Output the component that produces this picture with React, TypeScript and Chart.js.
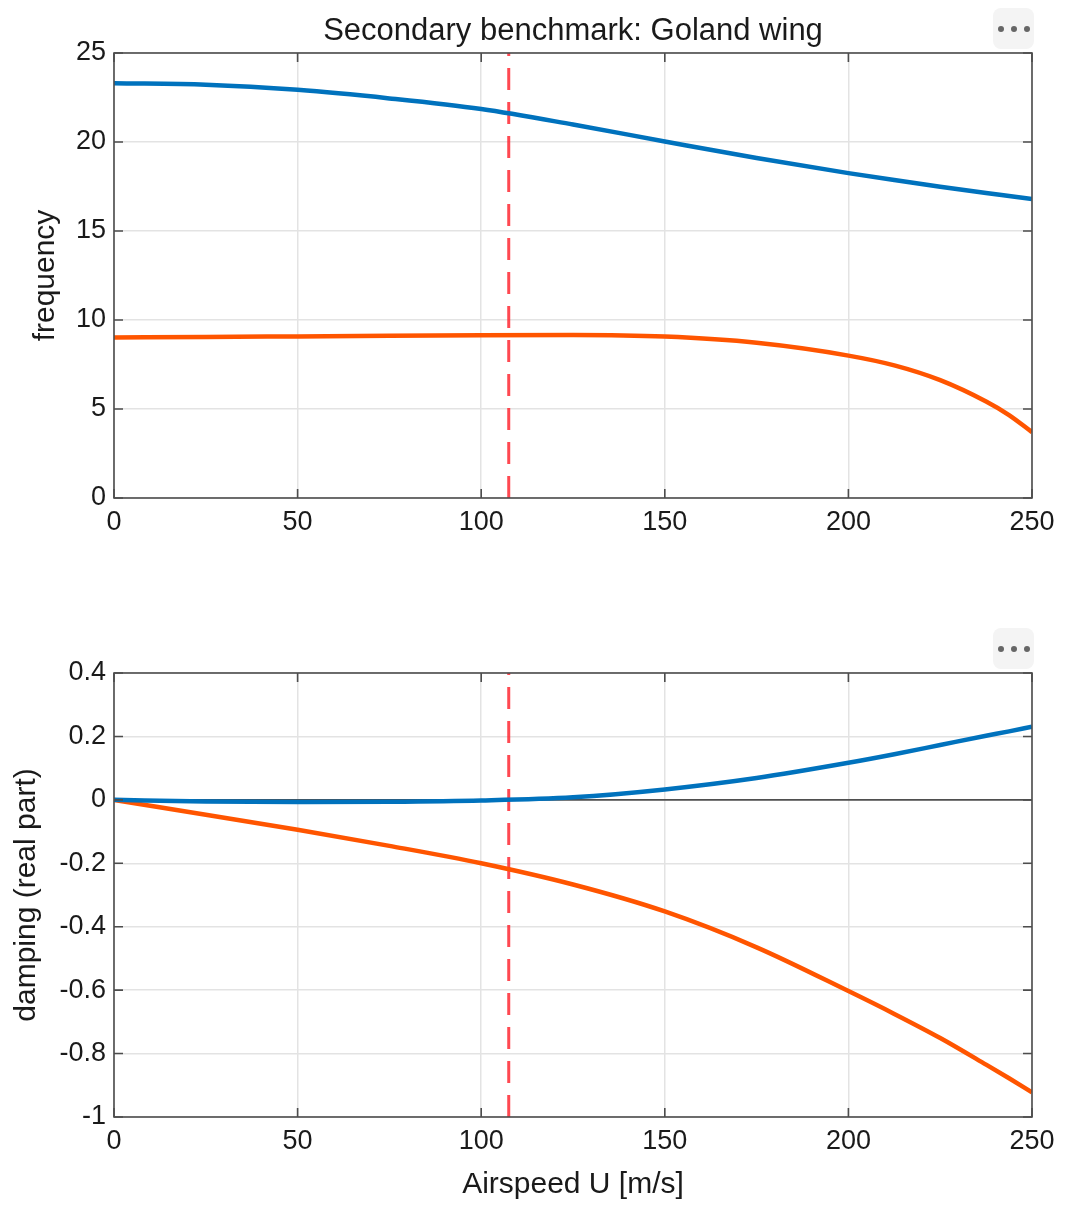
import React, { useEffect, useRef } from 'react';
import { Chart, registerables } from 'chart.js';

Chart.register(...registerables);

// airspeed samples [m/s]
const speeds = [0, 25, 50, 75, 100, 125, 150, 175, 200, 212.5, 225, 237.5, 243.75, 250];

// frequency of the two modes
const freqMode1 = [23.3, 23.22, 22.93, 22.45, 21.85, 20.98, 20.03, 19.1, 18.25, 17.86, 17.49, 17.14, 16.97, 16.8];
const freqMode2 = [9.02, 9.04, 9.08, 9.12, 9.15, 9.16, 9.07, 8.72, 8.0, 7.45, 6.62, 5.42, 4.66, 3.7];

// damping (real part) of the two modes
const dampMode1 = [0, -0.005, -0.007, -0.006, -0.002, 0.008, 0.033, 0.069, 0.117, 0.144, 0.173, 0.202, 0.216, 0.231];
const dampMode2 = [0, -0.047, -0.094, -0.145, -0.2, -0.267, -0.352, -0.465, -0.603, -0.675, -0.751, -0.835, -0.878, -0.922];

// flutter speed marker
const flutterSpeed = 107.5;

const xTicks = [0, 50, 100, 150, 200, 250];
const freqTicks = [0, 5, 10, 15, 20, 25];
const dampTicks = [-1, -0.8, -0.6, -0.4, -0.2, 0, 0.2, 0.4];

const BLUE = '#0072BD';
const ORANGE = '#FF5500';
const FONT = '"Liberation Sans", Arial, Helvetica, sans-serif';
const AXIS = '#4d4d4d';
const TEXT = '#1a1a1a';

const pts = (ys: number[]) => speeds.map((x, i) => ({ x, y: ys[i] }));

// MATLAB-like box with inward ticks on all four sides, plus an optional title centred on the axes
const boxPlugin = {
  id: 'matlabBox',
  afterDatasetsDraw(chart: any) {
    const { ctx, chartArea: a, scales } = chart;
    const len = 9;
    ctx.save();
    ctx.strokeStyle = AXIS;
    ctx.lineWidth = 1.6;
    ctx.strokeRect(a.left, a.top, a.right - a.left, a.bottom - a.top);
    ctx.beginPath();
    scales.x.ticks.forEach((t: any) => {
      const px = scales.x.getPixelForValue(t.value);
      ctx.moveTo(px, a.bottom);
      ctx.lineTo(px, a.bottom - len);
      ctx.moveTo(px, a.top);
      ctx.lineTo(px, a.top + len);
    });
    scales.y.ticks.forEach((t: any) => {
      const py = scales.y.getPixelForValue(t.value);
      ctx.moveTo(a.left, py);
      ctx.lineTo(a.left + len, py);
      ctx.moveTo(a.right, py);
      ctx.lineTo(a.right - len, py);
    });
    ctx.stroke();
    const title = chart.options.plugins.axesTitle?.text;
    if (title) {
      ctx.fillStyle = TEXT;
      ctx.font = `31px ${FONT}`;
      ctx.textAlign = 'center';
      ctx.textBaseline = 'middle';
      ctx.fillText(title, (a.left + a.right) / 2, 31);
    }
    ctx.restore();
  },
};

const makeOptions = (opts: {
  yMin: number;
  yMax: number;
  yTicks: number[];
  yTitle: string;
  yTitlePad: number;
  xTitle?: string;
  title?: string;
  padTop: number;
  xHeight: number;
}) => ({
  animation: false as const,
  responsive: false,
  maintainAspectRatio: false,
  layout: { padding: { top: opts.padTop, right: 35, left: 0, bottom: 0 } },
  plugins: {
    legend: { display: false },
    tooltip: { enabled: false },
    title: { display: false },
    axesTitle: { text: opts.title || '' },
  },
  scales: {
    x: {
      type: 'linear' as const,
      min: 0,
      max: 250,
      afterBuildTicks: (s: any) => {
        s.ticks = xTicks.map((v) => ({ value: v }));
      },
      afterFit: (s: any) => {
        s.height = opts.xHeight;
      },
      grid: { color: '#e3e3e3', lineWidth: 1.5, drawTicks: false },
      border: { display: false },
      ticks: { color: TEXT, font: { family: FONT, size: 27 }, padding: 8, maxRotation: 0 },
      title: opts.xTitle
        ? {
            display: true,
            text: opts.xTitle,
            color: TEXT,
            font: { family: FONT, size: 30 },
            padding: { top: 0, bottom: 8 },
          }
        : { display: false },
    },
    y: {
      type: 'linear' as const,
      min: opts.yMin,
      max: opts.yMax,
      afterBuildTicks: (s: any) => {
        s.ticks = opts.yTicks.map((v) => ({ value: v }));
      },
      afterFit: (s: any) => {
        s.width = 114;
      },
      grid: { color: '#e3e3e3', lineWidth: 1.5, drawTicks: false },
      border: { display: false },
      ticks: {
        color: TEXT,
        font: { family: FONT, size: 27 },
        padding: 8,
        callback: (v: any) => String(Math.round(Number(v) * 10) / 10),
      },
      title: {
        display: true,
        text: opts.yTitle,
        color: TEXT,
        font: { family: FONT, size: 30 },
        padding: { top: opts.yTitlePad, bottom: 0 },
      },
    },
  },
});

const lineDs = (data: any[], color: string) => ({
  data,
  borderColor: color,
  borderWidth: 4.5,
  pointRadius: 0,
  cubicInterpolationMode: 'monotone' as const,
  fill: false,
});

const flutterDs = (lo: number, hi: number) => ({
  data: [
    { x: flutterSpeed, y: lo },
    { x: flutterSpeed, y: hi },
  ],
  borderColor: 'rgba(255, 40, 50, 0.85)',
  borderWidth: 3,
  borderDash: [22, 12],
  pointRadius: 0,
  fill: false,
});

const Toolbar: React.FC<{ top: number }> = ({ top }) => (
  <div
    style={{
      position: 'absolute',
      left: 993,
      top,
      width: 41,
      height: 41,
      borderRadius: 8,
      background: '#f4f4f4',
      display: 'flex',
      alignItems: 'center',
      justifyContent: 'center',
      gap: 7,
    }}
  >
    {[0, 1, 2].map((i) => (
      <div key={i} style={{ width: 6, height: 6, borderRadius: 3, background: '#666' }} />
    ))}
  </div>
);

const App: React.FC = () => {
  const freqRef = useRef<HTMLCanvasElement | null>(null);
  const dampRef = useRef<HTMLCanvasElement | null>(null);

  useEffect(() => {
    document.body.style.margin = '0';
    if (!freqRef.current || !dampRef.current) return;

    const freqChart = new Chart(freqRef.current, {
      type: 'line',
      data: {
        datasets: [lineDs(pts(freqMode1), BLUE), lineDs(pts(freqMode2), ORANGE), flutterDs(0, 25)],
      },
      options: makeOptions({
        yMin: 0,
        yMax: 25,
        yTicks: freqTicks,
        yTitle: 'frequency',
        yTitlePad: 28,
        title: 'Secondary benchmark: Goland wing',
        padTop: 53,
        xHeight: 102,
      }) as any,
      plugins: [boxPlugin],
    });

    const dampChart = new Chart(dampRef.current, {
      type: 'line',
      data: {
        datasets: [
          lineDs(pts(dampMode1), BLUE),
          lineDs(pts(dampMode2), ORANGE),
          {
            data: [
              { x: 0, y: 0 },
              { x: 250, y: 0 },
            ],
            borderColor: 'rgba(30, 30, 30, 0.75)',
            borderWidth: 1.6,
            pointRadius: 0,
            fill: false,
          },
          flutterDs(-1, 0.4),
        ],
      },
      options: makeOptions({
        yMin: -1,
        yMax: 0.4,
        yTicks: dampTicks,
        yTitle: 'damping (real part)',
        yTitlePad: 9,
        xTitle: 'Airspeed U [m/s]',
        padTop: 73,
        xHeight: 94,
      }) as any,
      plugins: [boxPlugin],
    });

    return () => {
      freqChart.destroy();
      dampChart.destroy();
    };
  }, []);

  return (
    <div style={{ position: 'relative', width: 1067, height: 1211, background: '#fff' }}>
      <canvas ref={freqRef} width={1067} height={600} style={{ position: 'absolute', left: 0, top: 0 }} />
      <canvas ref={dampRef} width={1067} height={611} style={{ position: 'absolute', left: 0, top: 600 }} />
      <Toolbar top={8} />
      <Toolbar top={628} />
    </div>
  );
};

export default App;
